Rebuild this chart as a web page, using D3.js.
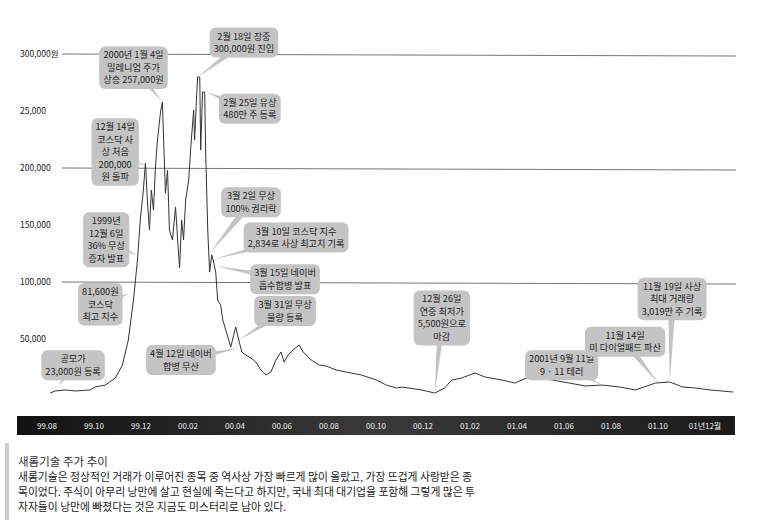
<!DOCTYPE html>
<html><head><meta charset="utf-8">
<script src="https://cdn.jsdelivr.net/npm/d3@7"></script>
<style>body{margin:0;background:#fff;font-family:"Noto Sans CJK KR",sans-serif}</style>
</head><body><svg id="c" width="763" height="530"></svg>
<script>
// month index: 0 = 1999.08
const months = [0.13,0.34,0.77,1.2,1.84,2.05,2.48,2.91,3.21,3.46,3.68,3.85,3.97,4.10,4.19,4.27,4.36,4.44,4.53,4.62,4.70,4.83,4.91,5.04,5.13,5.21,5.34,5.47,5.56,5.64,5.73,5.81,5.90,6.03,6.11,6.24,6.28,6.37,6.41,6.50,6.54,6.62,6.71,6.75,6.84,6.92,7.01,7.09,7.18,7.26,7.39,7.48,7.82,8.03,8.16,8.29,8.46,8.68,8.89,9.10,9.32,9.53,9.74,9.96,10.09,10.26,10.47,10.73,10.90,11.24,11.58,11.88,12.31,12.74,13.38,14.02,14.44,14.87,15.09,15.94,16.50,16.92,17.22,17.65,18.21,18.63,19.36,19.91,20.51,21.50,22.22,22.91,23.63,24.36,25.04,25.90,26.50,27.05,27.61,28.21,29.19];
const prices = [2.6,4.4,5.3,4.4,5.3,7.9,9.6,15.8,27.2,49.1,84.2,119.3,154.4,180.7,204.3,171.9,145.6,180.7,163.1,202.6,224.5,249,257.8,178,198,145.6,136.8,165.8,136.8,112.3,154.4,136.8,171.9,189.4,215.7,250.8,224.5,264,279.8,279.8,215.7,266.6,266.6,215.7,145.6,108.7,123.7,117.5,108.7,84.2,79.8,66.7,43,60.5,49.1,38.6,36,33.3,29.8,22.8,18.4,21,31.6,38.6,29.8,36,40.3,44.7,38.6,31.6,27.2,26.3,22.8,21,18.4,14,9.6,7,7.9,5.3,2.6,7,14,15.8,20.2,16.7,14,11.4,16.7,14,11.4,8.8,9.6,7.9,5.3,11.4,12.3,7.9,7,5.3,3.5].map(v=>v*1000);
const yTicks = [300000,250000,200000,150000,100000,50000];
const yTickLabels = ["300,000원","25,000","200,000","150,000","100,000","50,000"];
const gridValues = [300000,200000,100000];
const xTickMonths = [0,2,4,6,8,10,12,14,16,18,20,22,24,26,28];
const xTickLabels = ["99.08","99.10","99.12","00.02","00.04","00.06","00.08","00.10","00.12","01.02","01.04","01.06","01.08","01.10","01년12월"];
// callouts: lines, box centre [month, value], target [month, value]
const notes = [
 {t:["2000년 1월 4일","밀레니엄 주가","상승 257,000원"], box:[3.68,288000], tgt:[4.91,257800]},
 {t:["2월 18일 장중","300,000원 진입"], box:[8.38,310000], tgt:[6.41,279800]},
 {t:["2월 25일 유상","480만 주 등록"], box:[8.63,252000], tgt:[6.75,266600]},
 {t:["12월 14일","코스닥 사","상 처음","200,000","원 돌파"], box:[2.9,214000], tgt:[4.19,202000]},
 {t:["3월 2일 무상","100% 권리락"], box:[8.68,170000], tgt:[6.92,125000]},
 {t:["1999년","12월 6일","36% 무상","증자 발표"], box:[2.52,137000], tgt:[3.85,123000]},
 {t:["3월 10일 코스닥 지수","2,834로 사상 최고치 기록"], box:[10.6,139000], tgt:[7.09,120000]},
 {t:["3월 15일 네이버","흡수합병 발표"], box:[10.13,102500], tgt:[7.18,114000]},
 {t:["81,600원","코스닥","최고 지수"], box:[2.27,80500], tgt:[3.5,90000]},
 {t:["3월 31일 무상","물량 등록"], box:[10.13,74500], tgt:[8.16,49100]},
 {t:["4월 12일 네이버","합병 무산"], box:[5.7,31500], tgt:[8.16,42000]},
 {t:["공모가","23,000원 등록"], box:[1.11,27000], tgt:[0.5,9000]},
 {t:["12월 26일","연중 최저가","5,500원으로","마감"], box:[16.8,68500], tgt:[16.5,2600]},
 {t:["2001년 9월 11일","9 · 11 테러"], box:[21.9,27000], tgt:[23.63,9600]},
 {t:["11월 14일","미 다이얼패드 파산"], box:[24.6,47500], tgt:[26.0,11500]},
 {t:["11월 19일 사상","최대 거래량","3,019만 주 기록"], box:[26.6,85000], tgt:[26.5,12300]}
];
const title = "새롬기술 주가 추이";
const para = ["새롬기술은 정상적인 거래가 이루어진 종목 중 역사상 가장 빠르게 많이 올랐고, 가장 뜨겁게 사랑받은 종",
 "목이었다. 주식이 아무리 낭만에 살고 현실에 죽는다고 하지만, 국내 최대 대기업을 포함해 그렇게 많은 투",
 "자자들이 낭만에 빠졌다는 것은 지금도 미스터리로 남아 있다."];

const svg = d3.select("#c");
const x = d3.scaleLinear().domain([0,28]).range([47,705]);
const y = d3.scaleLinear().domain([0,300000]).range([396,54]);

svg.append("g").selectAll("line").data(gridValues).join("line")
 .attr("x1",62).attr("x2",736).attr("y1",d=>y(d)).attr("y2",d=>y(d)+2)
 .attr("stroke","#777").attr("stroke-width",1);
svg.append("g").selectAll("text").data(yTicks).join("text")
 .attr("x",20).attr("y",d=>y(d)+3).attr("font-size",8.5).attr("fill","#222")
 .text((d,i)=>yTickLabels[i]);

const line = d3.line().x((d,i)=>x(months[i])).y(d=>y(d));
svg.append("path").datum(prices).attr("d",line).attr("fill","none")
 .attr("stroke","#333").attr("stroke-width",1);

const grad = svg.append("defs").append("linearGradient").attr("id","g");
grad.append("stop").attr("offset","0").attr("stop-color","#111");
grad.append("stop").attr("offset","0.5").attr("stop-color","#3a3a3a");
grad.append("stop").attr("offset","1").attr("stop-color","#1a1a1a");
svg.append("rect").attr("x",17).attr("y",416).attr("width",718).attr("height",19).attr("fill","url(#g)");
svg.append("g").selectAll("text").data(xTickMonths).join("text")
 .attr("x",d=>x(d)).attr("y",429).attr("text-anchor","middle").attr("font-size",8)
 .attr("fill","#eee").text((d,i)=>xTickLabels[i]);

const lh = 12.5;
const g = svg.append("g");
notes.forEach(n=>{
  const cx = x(n.box[0]), cy = y(n.box[1]);
  const tmp = g.append("g");
  const txt = tmp.append("text").attr("font-size",9.2).attr("fill","#222").attr("text-anchor","middle");
  n.t.forEach((s,i)=>txt.append("tspan").attr("x",cx).attr("y",cy - (n.t.length-1)*lh/2 + i*lh + 3.3).text(s));
  const bb = txt.node().getBBox();
  const w = bb.width+8, h = n.t.length*lh+5;
  const tx = x(n.tgt[0]), ty = y(n.tgt[1]);
  const dx = tx-cx, dy = ty-cy, L = Math.hypot(dx,dy)||1;
  const px = -dy/L*4, py = dx/L*4;
  tmp.insert("path","text").attr("d",`M${cx+px},${cy+py}L${tx},${ty}L${cx-px},${cy-py}Z`).attr("fill","#c4c4c4");
  tmp.insert("rect","text").attr("x",cx-w/2).attr("y",cy-h/2).attr("width",w).attr("height",h)
   .attr("rx",6).attr("fill","#c4c4c4");
});

svg.append("rect").attr("x",5).attr("y",443).attr("width",4).attr("height",77).attr("fill","#ccc");
svg.append("text").attr("x",18).attr("y",466).attr("font-size",11.5).attr("fill","#333").text(title);
svg.append("g").selectAll("text").data(para).join("text")
 .attr("x",18).attr("y",(d,i)=>481+i*15).attr("font-size",10.8).attr("fill","#222").text(d=>d);
</script></body></html>
